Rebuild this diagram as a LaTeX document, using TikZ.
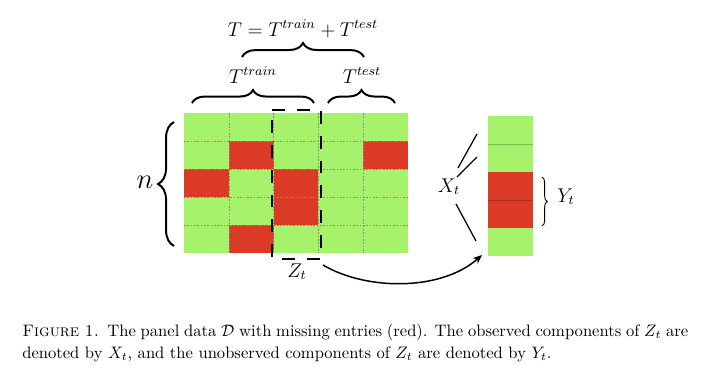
\documentclass[tikz,border=0pt]{standalone}
\usetikzlibrary{decorations.pathreplacing,arrows.meta}
\definecolor{cellgreen}{RGB}{166,242,107}
\definecolor{cellred}{RGB}{218,58,38}
\begin{document}
\begin{tikzpicture}[x=0.603pt,y=-0.603pt,
  gridline/.style={black!45,line width=0.3pt,dash pattern=on 1pt off 1pt},
  colline/.style={black,opacity=0.22,line width=0.35pt},
  bigbrace/.style={line width=1.2pt,decorate,decoration={brace,amplitude=#1}},
  smallbrace/.style={line width=0.55pt,decorate,decoration={brace,amplitude=#1}},
  lbl/.style={anchor=base,inner sep=0pt,font=\large},
  zbox/.style={line width=1.2pt,dash pattern=on 7.8pt off 7.2pt},
  pointer/.style={line width=0.75pt},
  arr/.style={line width=0.9pt,-{Stealth[length=5.5pt,width=4.5pt]}}]
\useasboundingbox (0,0) rectangle (706,375);
% panel grid
\coordinate (gridnw) at (184,113);
\coordinate (gridse) at (408,253);
\fill[cellgreen] (gridnw) rectangle (gridse);
\foreach \c/\r in {1/1,4/1,0/2,2/2,2/3,1/4}
  \fill[cellred] ({184+44.8*\c},{113+28*\r}) rectangle ++(44.8,28);
\foreach \i in {1,...,4}{
  \draw[gridline] ({184+44.8*\i},113) -- ++(0,140);
  \draw[gridline] (184,{113+28*\i}) -- ++(224,0);
}
% dashed Z_t box
\draw[zbox] (272,110) -- (321,110) -- (321,259) -- (272,259) -- cycle;
% column
\coordinate (colnw) at (488,116);
\coordinate (colse) at (533,256);
\fill[cellgreen] (colnw) rectangle (colse);
\fill[cellred] (488,172) rectangle (533,228);
\foreach \y in {144,200} \draw[colline] (488,\y) -- (533,\y);
% braces
\draw[bigbrace=8.4pt] (242,57) -- (364,57);
\draw[bigbrace=7.8pt] (192,103) -- (314,103);
\draw[bigbrace=7.8pt] (328,103) -- (395,103);
\draw[bigbrace=9.6pt] (174,246) -- (174,122);
\draw[smallbrace=3.2pt] (542,177) -- (542,226);
% labels
\node[lbl] (ttot) at (303,36) {$T = T^{train} + T^{test}$};
\node[lbl] (ttrain) at (253,83) {$T^{train}$};
\node[lbl] (ttest) at (362,83) {$T^{test}$};
\node[lbl,font=\fontsize{16}{18}\selectfont] (n) at (145,188) {$n$};
\node[lbl] (xt) at (449,192) {$X_t$};
\node[lbl] (yt) at (566,202) {$Y_t$};
\node[lbl] (zt) at (297,277) {$Z_t$};
% pointer lines
\coordinate (pa1) at (477,134); \coordinate (pa2) at (458,168);
\coordinate (pb1) at (477,157); \coordinate (pb2) at (457,177);
\coordinate (pc1) at (456,204); \coordinate (pc2) at (476,241);
\draw[pointer] (pa1) -- (pa2);
\draw[pointer] (pb1) -- (pb2);
\draw[pointer] (pc1) -- (pc2);
% arrow
\coordinate (astart) at (323,265);
\coordinate (aend) at (482,255);
\draw[arr] (astart) .. controls (365,290) and (440,292) .. (aend);
% caption
\node[anchor=base west,inner sep=0] (cap1) at (22,336) {\makebox[401.6pt][s]{\textsc{Figure 1.}\enspace The panel data $\mathcal{D}$ with missing entries (red). The observed components of $Z_t$ are}};
\node[anchor=base west,inner sep=0] (cap2) at (22,358) {denoted by $X_t$, and the unobserved components of $Z_t$ are denoted by $Y_t$.};
\end{tikzpicture}
\end{document}
